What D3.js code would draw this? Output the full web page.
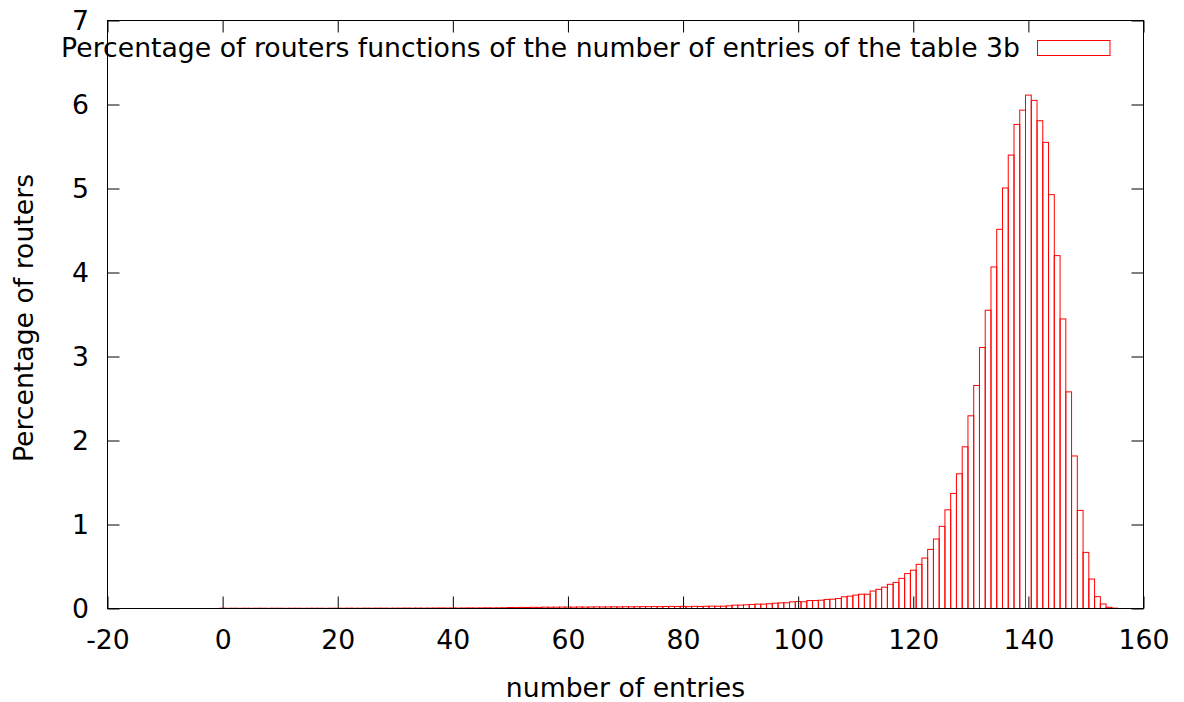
<!DOCTYPE html>
<html>
<head>
<meta charset="utf-8">
<script src="https://cdn.jsdelivr.net/npm/d3@7"></script>
<style>
  html, body { margin: 0; padding: 0; background: #fff; }
  svg { display: block; font-family: "DejaVu Sans", sans-serif; }
</style>
</head>
<body>
<svg id="chart" width="1184" height="702"></svg>
<script>
// Number of table entries (one box per integer value)
const entries = d3.range(0, 156);

// Percentage of routers for each number of entries, 0..155
const percentages = [
  0.003, 0.002, 0.003, 0.002, 0.003, 0.002, 0.003, 0.003, 0.002, 0.003,
  0.003, 0.002, 0.003, 0.003, 0.002, 0.003, 0.003, 0.003, 0.002, 0.003,
  0.003, 0.003, 0.004, 0.003, 0.003, 0.004, 0.003, 0.004, 0.004, 0.003,
  0.004, 0.004, 0.005, 0.004, 0.005, 0.004, 0.005, 0.005, 0.006, 0.005,
  0.006, 0.005, 0.006, 0.007, 0.006, 0.007, 0.008, 0.007, 0.008, 0.009,
  0.012, 0.011, 0.013, 0.012, 0.014, 0.013, 0.016, 0.015, 0.016, 0.017,
  0.017, 0.016, 0.018, 0.017, 0.018, 0.019, 0.018, 0.019, 0.020, 0.019,
  0.021, 0.020, 0.021, 0.022, 0.022, 0.023, 0.022, 0.024, 0.025, 0.024,
  0.026, 0.022, 0.026, 0.024, 0.026, 0.028, 0.027, 0.028, 0.032, 0.040,
  0.040, 0.044, 0.048, 0.052, 0.052, 0.056, 0.063, 0.067, 0.068, 0.079,
  0.083, 0.080, 0.095, 0.095, 0.099, 0.108, 0.111, 0.119, 0.139, 0.147,
  0.160, 0.170, 0.170, 0.208, 0.228, 0.254, 0.288, 0.311, 0.359, 0.416,
  0.456, 0.526, 0.601, 0.704, 0.827, 0.978, 1.175, 1.370, 1.604, 1.925,
  2.294, 2.655, 3.107, 3.551, 4.066, 4.514, 5.006, 5.398, 5.763, 5.933,
  6.112, 6.049, 5.807, 5.549, 4.927, 4.201, 3.447, 2.579, 1.816, 1.168,
  0.668, 0.351, 0.141, 0.054, 0.014, 0.004
];

const xTicks = [-20, 0, 20, 40, 60, 80, 100, 120, 140, 160];
const yTicks = [0, 1, 2, 3, 4, 5, 6, 7];

const seriesTitle = "Percentage of routers functions of the number of entries of the table 3b";
const xTitle = "number of entries";
const yTitle = "Percentage of routers";

const svg = d3.select("#chart");
const plot = { left: 107.5, right: 1143.5, top: 20.5, bottom: 608.5 };
const fontSize = 26.7;
const tickLen = 12;

const x = d3.scaleLinear().domain([-20, 160]).range([plot.left, plot.right]);
const y = d3.scaleLinear().domain([0, 7]).range([plot.bottom, plot.top]);

// Boxes: one unit wide, centred on each integer, outline only
svg.append("g")
  .attr("fill", "none")
  .attr("stroke", "#ff0000")
  .attr("stroke-width", 1)
  .selectAll("rect")
  .data(entries)
  .join("rect")
  .attr("x", d => x(d - 0.5))
  .attr("width", d => x(d + 0.5) - x(d - 0.5))
  .attr("y", (d, i) => y(percentages[i]))
  .attr("height", (d, i) => y(0) - y(percentages[i]));

// Axes with inward ticks; plain hyphen for negative labels
const plain = d => String(d);
const bottomAxis = d3.axisBottom(x).tickValues(xTicks).tickSize(-tickLen).tickPadding(22).tickFormat(plain);
const topAxis = d3.axisTop(x).tickValues(xTicks).tickSize(-tickLen).tickFormat("");
const leftAxis = d3.axisLeft(y).tickValues(yTicks).tickSize(-tickLen).tickPadding(18.5).tickFormat(plain);
const rightAxis = d3.axisRight(y).tickValues(yTicks).tickSize(-tickLen).tickFormat("");

function styleAxis(g) {
  g.select(".domain").remove();
  g.selectAll(".tick line").attr("stroke", "#000").attr("stroke-width", 1);
  g.selectAll(".tick text")
    .attr("fill", "#000")
    .style("font-family", "'DejaVu Sans', sans-serif")
    .style("font-size", fontSize + "px");
}

svg.append("g").attr("transform", `translate(0,${plot.bottom})`).call(bottomAxis).call(styleAxis);
svg.append("g").attr("transform", `translate(0,${plot.top})`).call(topAxis).call(styleAxis);
svg.append("g").attr("transform", `translate(${plot.left},0)`).call(leftAxis).call(styleAxis);
svg.append("g").attr("transform", `translate(${plot.right},0)`).call(rightAxis).call(styleAxis);

// Plot border
svg.append("rect")
  .attr("x", plot.left)
  .attr("y", plot.top)
  .attr("width", plot.right - plot.left)
  .attr("height", plot.bottom - plot.top)
  .attr("fill", "none")
  .attr("stroke", "#000")
  .attr("stroke-width", 1);

// Axis titles
svg.append("text")
  .attr("x", (plot.left + plot.right) / 2)
  .attr("y", 697)
  .attr("text-anchor", "middle")
  .style("font-size", fontSize + "px")
  .text(xTitle);

svg.append("text")
  .attr("transform", `translate(33,318) rotate(-90)`)
  .attr("text-anchor", "middle")
  .style("font-size", fontSize + "px")
  .text(yTitle);

// Key
svg.append("text")
  .attr("x", 1020)
  .attr("y", 57)
  .attr("text-anchor", "end")
  .style("font-size", fontSize + "px")
  .text(seriesTitle);

svg.append("rect")
  .attr("x", 1037.5)
  .attr("y", 40.5)
  .attr("width", 72.5)
  .attr("height", 15)
  .attr("fill", "none")
  .attr("stroke", "#ff0000")
  .attr("stroke-width", 1);
</script>
</body>
</html>
